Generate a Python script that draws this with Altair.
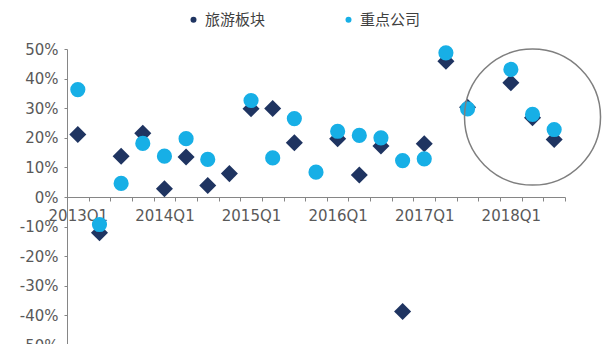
import altair as alt
import pandas as pd

quarters = ["2013Q1", "2013Q2", "2013Q3", "2013Q4",
            "2014Q1", "2014Q2", "2014Q3", "2014Q4",
            "2015Q1", "2015Q2", "2015Q3", "2015Q4",
            "2016Q1", "2016Q2", "2016Q3", "2016Q4",
            "2017Q1", "2017Q2", "2017Q3", "2017Q4",
            "2018Q1", "2018Q2", "2018Q3"]

series_names = ["旅游板块", "重点公司"]

# growth rates in percent (None = no value shown)
tourism = [21.1, -12.1, 13.8, 21.5, 2.8, 13.5, 3.9, 7.9,
           29.8, 29.9, 18.3, None, 19.7, 7.4, 17.2, -38.7,
           18.0, 45.9, 30.3, None, 38.6, 26.8, 19.4]
key_companies = [36.3, -9.3, 4.6, 18.1, 13.8, 19.7, 12.7, None,
                 32.6, 13.2, 26.5, 8.4, 22.2, 20.8, 20.0, 12.3,
                 12.9, 48.7, 29.8, None, 43.1, 27.9, 22.8]

highlight_quarter = ["2018Q2"]
highlight_value = [27.0]


def series_frame(name, vals):
    rows = [{"quarter": q, "value": v / 100.0, "series": name}
            for q, v in zip(quarters, vals) if v is not None]
    return pd.DataFrame(rows)


df_t = series_frame(series_names[0], tourism)
df_k = series_frame(series_names[1], key_companies)

hl = pd.DataFrame({"quarter": highlight_quarter,
                   "value": [v / 100.0 for v in highlight_value]})

x_scale = alt.Scale(domain=quarters, paddingInner=0, paddingOuter=0)
y_scale = alt.Scale(domain=[-0.5, 0.5], nice=False)
color_scale = alt.Scale(domain=series_names, range=["#1f3461", "#17afe6"])

x_enc = alt.X("quarter:N", scale=x_scale,
              axis=alt.Axis(title=None, tickBand="extent", offset=-148,
                            labelExpr="indexof(datum.label + '', 'Q1') >= 0 ? datum.label : ''",
                            labelOverlap=False, labelAngle=0,
                            labelFont="DejaVu Sans", labelFontSize=15,
                            labelColor="#595959", labelPadding=7,
                            domainColor="#868686", tickColor="#868686",
                            tickSize=4))
y_enc = alt.Y("value:Q", scale=y_scale,
              axis=alt.Axis(title=None, format=".0%", tickCount=10,
                            labelExpr="replace(datum.label + '', '\u2212', '-')",
                            grid=False, labelFont="DejaVu Sans", labelFontSize=15,
                            labelColor="#595959", labelPadding=6,
                            domainColor="#868686", tickColor="#868686",
                            tickSize=3))
c_enc = alt.Color("series:N", scale=color_scale,
                  legend=alt.Legend(title=None, orient="none", direction="horizontal",
                                    legendX=119, legendY=-37, padding=0,
                                    symbolSize=36, columnPadding=75,
                                    labelFont="Noto Sans CJK SC", labelFontSize=15,
                                    labelColor="#404040", labelOffset=4))

diamonds = alt.Chart(df_t).mark_point(
    filled=True, opacity=1, shape="diamond", size=290
).encode(x=x_enc, y=y_enc, color=c_enc)

circles = alt.Chart(df_k).mark_point(
    filled=True, opacity=1, shape="circle", size=230
).encode(x=x_enc, y=y_enc, color=c_enc)

ellipse = alt.Chart(hl).mark_point(
    shape="circle", filled=False, stroke="#7f7f7f", strokeWidth=1.5,
    opacity=1, size=18500,
).encode(x=x_enc, y=y_enc)

chart = alt.layer(diamonds, circles, ellipse).properties(
    width=498, height=296,
    autosize=alt.AutoSizeParams(type="none"),
    padding={"left": 67, "top": 49, "right": 38, "bottom": 0},
).configure_view(stroke=None)

chart.save("out.html", embed_options={"renderer": "svg", "actions": False})
